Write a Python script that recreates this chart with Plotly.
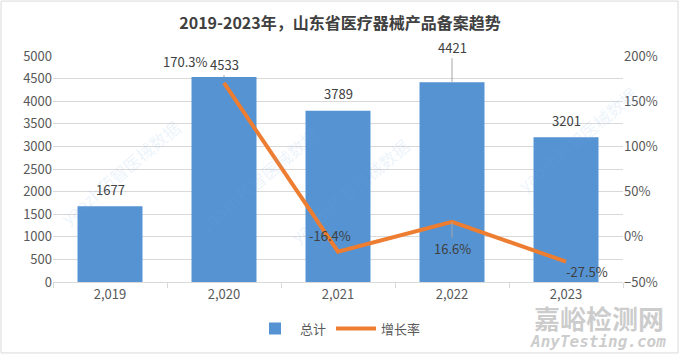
import plotly.graph_objects as go

year_labels = ["2,019", "2,020", "2,021", "2,022", "2,023"]
totals = [1677, 4533, 3789, 4421, 3201]
growth_years = ["2,020", "2,021", "2,022", "2,023"]
growth = [170.3, -16.4, 16.6, -27.5]

FONT = "Noto Sans CJK SC, Microsoft YaHei, sans-serif"
TXT = "#404040"

fig = go.Figure()
fig.add_trace(go.Bar(
    x=year_labels, y=totals, name="总计",
    marker=dict(color="#5593d3", line=dict(width=0)),
    yaxis="y",
))
fig.add_trace(go.Scatter(
    x=growth_years, y=growth, name="增长率", mode="lines",
    line=dict(color="#ED7D31", width=4),
    yaxis="y2",
))

# bar labels (some moved with leader lines, as in the source)
bar_offsets = {"2,019": (0, -17, False), "2,020": (0, -13, True), "2,021": (0, -17, False),
               "2,022": (0, -35, True), "2,023": (0, -17, False)}
for yr, v in zip(year_labels, totals):
    ax, ay, arrow = bar_offsets[yr]
    fig.add_annotation(x=yr, y=v, xref="x", yref="y", text=str(v),
                       showarrow=True, arrowhead=0, arrowwidth=1,
                       arrowcolor="#a6a6a6" if arrow else "rgba(0,0,0,0)",
                       ax=ax, ay=ay, standoff=0,
                       font=dict(size=13, color=TXT, family=FONT))

line_offsets = {"2,020": (-39, -21, False), "2,021": (-8, -16, False),
                "2,022": (0, 27, True), "2,023": (21, 10, False)}
for yr, v in zip(growth_years, growth):
    ax, ay, arrow = line_offsets[yr]
    fig.add_annotation(x=yr, y=v, xref="x", yref="y2", text=f"{v}%",
                       showarrow=True, arrowhead=0, arrowwidth=1,
                       arrowcolor="#a6a6a6" if arrow else "rgba(0,0,0,0)",
                       ax=ax, ay=ay, standoff=0,
                       font=dict(size=13, color=TXT, family=FONT))

# faint watermarks
for xx, yy in [(0.0, 0.22), (0.36, 0.72), (0.52, 0.14), (1.04, 0.9)]:
    fig.add_annotation(x=xx, y=yy, xref="paper", yref="paper", showarrow=False,
                       text="yaozh药智医械数据", textangle=-40,
                       font=dict(size=17, color="rgba(120,170,230,0.15)", family=FONT))
fig.add_annotation(x=1.075, y=-0.155, xref="paper", yref="paper", showarrow=False,
                   xanchor="right", yanchor="middle", text="<b>嘉峪检测网</b>",
                   font=dict(size=26, color="rgba(170,170,170,0.6)", family=FONT))
fig.add_annotation(x=1.079, y=-0.262, xref="paper", yref="paper", showarrow=False,
                   xanchor="right", yanchor="middle", text="<b><i>AnyTesting.com</i></b>",
                   font=dict(size=16, color="rgba(170,170,170,0.6)", family="DejaVu Sans Mono"))

fig.update_layout(
    width=680, height=356, autosize=False,
    margin=dict(l=53, r=57, t=56, b=74),
    paper_bgcolor="white", plot_bgcolor="white",
    title=dict(text="<b>2019-2023年，山东省医疗器械产品备案趋势</b>", x=0.5, xanchor="center",
               y=0.935, yanchor="middle", font=dict(size=16, color=TXT, family=FONT)),
    font=dict(family=FONT, color=TXT, size=12),
    bargap=0.43,
    xaxis=dict(type="category", range=[-0.5, 4.5],
               showgrid=False, showline=True, linecolor="#d9d9d9", linewidth=1,
               ticks="outside", tickson="boundaries", ticklen=5, tickcolor="#d9d9d9",
               tickfont=dict(size=13, color="#595959")),
    yaxis=dict(range=[0, 5000], dtick=500, showgrid=True, gridcolor="#d9d9d9",
               zeroline=False, showline=False, ticks="",
               tickfont=dict(size=13, color="#595959")),
    yaxis2=dict(range=[-50, 200], dtick=50, overlaying="y", side="right",
                showgrid=False, zeroline=False, ticksuffix="%", ticks="",
                tickfont=dict(size=13, color="#595959")),
    legend=dict(orientation="h", x=0.5, xanchor="center", y=-0.14, yanchor="top",
                font=dict(size=13, color="#595959"), itemwidth=40),
    shapes=[dict(type="rect", xref="paper", yref="paper", x0=-0.0912, x1=1.0965,
                 y0=-0.314, y1=1.243, line=dict(color="#d9d9d9", width=1),
                 fillcolor="rgba(0,0,0,0)", layer="below")],
)

fig.write_html("out.html", config={"displayModeBar": False},
               post_script="document.body.style.margin='0px';document.body.style.overflow='hidden';")
